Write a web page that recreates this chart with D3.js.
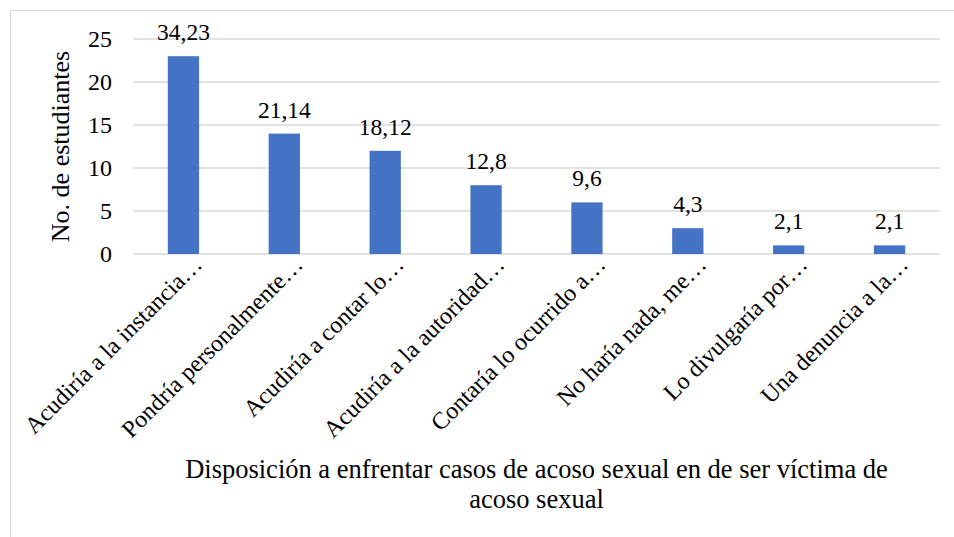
<!DOCTYPE html>
<html><head><meta charset="utf-8">
<script src="https://cdn.jsdelivr.net/npm/d3@7"></script>
<style>body{margin:0;background:#fff}svg{display:block}</style>
</head><body>
<svg id="c" width="954" height="537"></svg>
<script>
const categories = ["Acudiría a la instancia…","Pondría personalmente…","Acudiría a contar lo…","Acudiría a la autoridad…","Contaría lo ocurrido a…","No haría nada, me…","Lo divulgaría por…","Una denuncia a la…"];
const values = [23,14,12,8,6,3,1,1];
const labels = ["34,23","21,14","18,12","12,8","9,6","4,3","2,1","2,1"];
const yTicks = [0,5,10,15,20,25];
const yTitle = "No. de estudiantes";
const xTitle = ["Disposición a enfrentar casos de acoso sexual en de ser víctima de","acoso sexual"];

const FF = '"Liberation Serif","Times New Roman",serif';
const svg = d3.select("#c");
const m = {l:133, r:940, t:39, b:254};
const x = d3.scaleBand().domain(categories).range([m.l, m.r]).paddingInner(0.69).paddingOuter(0.345);
const y = d3.scaleLinear().domain([0,25]).range([m.b, m.t]);

svg.append("path").attr("d","M10.5,537V10.5H954").attr("fill","none").attr("stroke","#d9d9d9").attr("stroke-width",1);

svg.append("g").selectAll("line").data(yTicks).join("line")
  .attr("x1",m.l).attr("x2",m.r).attr("y1",d=>y(d)).attr("y2",d=>y(d))
  .attr("stroke","#d9d9d9").attr("stroke-width",1.3);

const ya = svg.append("g").attr("transform",`translate(${m.l-21},0)`)
  .call(d3.axisLeft(y).tickValues(yTicks).tickSize(0).tickPadding(0));
ya.select(".domain").remove();
ya.selectAll("text").style("font-family",FF).style("font-size","24px").style("fill","#000").attr("dy","0.33em");

svg.append("g").selectAll("rect").data(values).join("rect")
  .attr("x",(d,i)=>x(categories[i])).attr("width",x.bandwidth())
  .attr("y",d=>y(d)).attr("height",d=>y(0)-y(d)).attr("fill","#4472c4");

svg.append("g").selectAll("text").data(values).join("text")
  .attr("x",(d,i)=>x(categories[i])+x.bandwidth()/2).attr("y",d=>y(d)-16)
  .attr("text-anchor","middle").style("font-family",FF).style("font-size","23.5px").style("fill","#000")
  .text((d,i)=>labels[i]);

svg.append("g").selectAll("text").data(categories).join("text")
  .attr("transform",d=>`translate(${x(d)+x.bandwidth()/2+20},266) rotate(-45)`)
  .attr("text-anchor","end").style("font-family",FF).style("font-size","24px").style("fill","#000")
  .text(d=>d);

svg.append("text").attr("transform",`translate(69,${(m.t+m.b)/2}) rotate(-90)`)
  .attr("text-anchor","middle").style("font-family",FF).style("font-size","26px").style("fill","#000").text(yTitle);

svg.append("g").selectAll("text").data(xTitle).join("text")
  .attr("x",(m.l+m.r)/2).attr("y",(d,i)=>478+i*30)
  .attr("text-anchor","middle").style("font-family",FF).style("font-size","26.5px").style("fill","#000").text(d=>d);
</script>
</body></html>
